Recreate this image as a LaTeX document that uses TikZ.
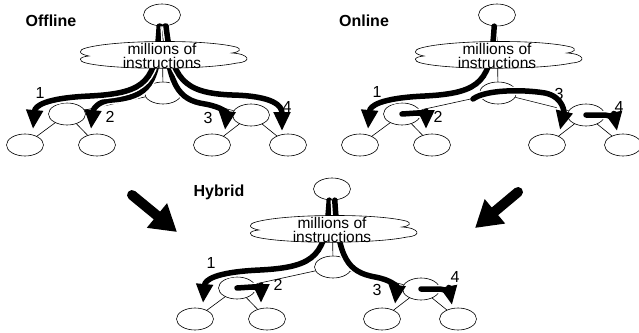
\documentclass[tikz,border=0pt]{standalone}
\usepackage{fontspec}
\setmainfont{Liberation Sans}
\usetikzlibrary{shapes.geometric,arrows.meta}

\tikzset{
  state/.style={ellipse, draw, fill=white, line width=0.6pt, minimum width=37pt, minimum height=22pt, inner sep=0pt},
  edge/.style={line width=0.6pt},
  flow/.style={line width=5.5pt, line cap=round, -{Triangle[width=16pt,length=19pt]},
    preaction={draw=white, line width=8.5pt, -}},
  bigflow/.style={line width=10pt, line cap=round, -{Triangle[width=30pt,length=26pt]}},
  puff/.style={draw, fill=white, line width=0.6pt},
  work/.style={font=\fontsize{15.5}{14}\selectfont, align=center, inner sep=0pt},
  num/.style={font=\fontsize{16}{16}\selectfont},
  ttl/.style={font=\fontsize{16}{16}\selectfont\bfseries},
}

% one tree; #1 = the thick paths, drawn before the cloud
\newcommand\ExecTree[1]{%
  \node[state] (top) at (162,15) {};
  \node[state] (mid) at (163,93) {};
  \node[state] (lc) at (67,114) {};
  \node[state] (rc) at (251,115) {};
  \node[state] (ll) at (25,145) {};
  \node[state] (lr) at (97,145) {};
  \node[state] (rl) at (212,145) {};
  \node[state] (rr) at (288,145) {};
  \coordinate (a1) at (33,129);
  \coordinate (a2) at (91,129);
  \coordinate (a3) at (225,130);
  \coordinate (a4) at (282,131);
  \draw[edge] (top) -- (mid);
  \draw[edge] (mid) -- (lc);
  \draw[edge] (mid) -- (rc);
  \draw[edge] (lc) -- (ll);
  \draw[edge] (lc) -- (lr);
  \draw[edge] (rc) -- (rl);
  \draw[edge] (rc) -- (rr);
  #1
  % the cloud
  \begin{scope}[shift={(164,56)}]
  \draw[puff] (-78,-8) .. controls (-50,-16) and (40,-17) .. (72,-9)
    .. controls (78,-7) and (76,-4) .. (68,-3)
    .. controls (86,-2) and (88,6) .. (73,7)
    .. controls (40,14) and (-50,14) .. (-78,7)
    .. controls (-86,5) and (-86,1) .. (-75,0)
    .. controls (-86,-2) and (-86,-6) .. (-78,-8) -- cycle;
  \end{scope}
  \node[work] (cloud) at (162,56) {millions of\\instructions};
}

\begin{document}
\begin{tikzpicture}[x=1pt, y=-1pt]
\useasboundingbox (0,0) rectangle (639,332);

% offline
\begin{scope}[name prefix=off-]
\ExecTree{
  \draw[flow] (top.262) .. controls (159,85) and (148,97) .. (112,100) .. controls (97,101) and (93,110) .. (a2);
  \draw[flow] (top.256) .. controls (156,80) and (148,93) .. (90,96) .. controls (45,98) and (35,106) .. (a1);
  \draw[flow] (top.283) .. controls (168,85) and (178,100) .. (205,104) .. controls (222,107) and (227,113) .. (a3);
  \draw[flow] (top.290) .. controls (172,78) and (182,93) .. (232,95) .. controls (274,96) and (282,106) .. (a4);
}
\node[ttl] (title) at (51,21) {Offline};
\node[num] (n1) at (40,93) {1};
\node[num] (n2) at (110,117) {2};
\node[num] (n3) at (208,118) {3};
\node[num] (n4) at (287,107) {4};
\end{scope}

% online
\begin{scope}[shift={(335,0)}, name prefix=on-]
\ExecTree{
  \coordinate (t3) at (138,99);
  \draw[flow] (top.256) .. controls (156,80) and (148,93) .. (90,96) .. controls (45,98) and (35,106) .. (a1);
  \draw[flow] (lc.center) -- (82,113) .. controls (89,113) and (91,118) .. (a2);
  \draw[flow] (t3) .. controls (150,90) and (185,89) .. (210,93) .. controls (229,97) and (229,113) .. (a3);
  \draw[flow] (rc.center) -- (268,115) .. controls (276,115) and (280,120) .. (a4);
}
\node[ttl] (title) at (29,21) {Online};
\node[num] (n1) at (42,92) {1};
\node[num] (n2) at (103,117) {2};
\node[num] (n3) at (224,94) {3};
\node[num] (n4) at (284,107) {4};
\end{scope}

% hybrid
\begin{scope}[shift={(170,174)}, name prefix=hy-]
\ExecTree{
  \draw[flow] (top.256) .. controls (156,80) and (148,93) .. (90,96) .. controls (45,98) and (35,106) .. (a1);
  \draw[flow] (lc.center) -- (82,113) .. controls (89,113) and (91,118) .. (a2);
  \draw[flow] (top.284) .. controls (168,85) and (178,98) .. (205,103) .. controls (222,106) and (227,113) .. (a3);
  \draw[flow] (rc.center) -- (268,115) .. controls (276,115) and (280,120) .. (a4);
}
\node[ttl] (title) at (49,18) {Hybrid};
\node[num] (n1) at (41,89) {1};
\node[num] (n2) at (108,111) {2};
\node[num] (n3) at (207,116) {3};
\node[num] (n4) at (285,103) {4};
\end{scope}

% merge arrows
\coordinate (offtail) at (132,195);
\coordinate (offhead) at (177,232);
\coordinate (ontail) at (518,192);
\coordinate (onhead) at (475,228);
\draw[bigflow] (offtail) -- (offhead);
\draw[bigflow] (ontail) -- (onhead);
\end{tikzpicture}
\end{document}
